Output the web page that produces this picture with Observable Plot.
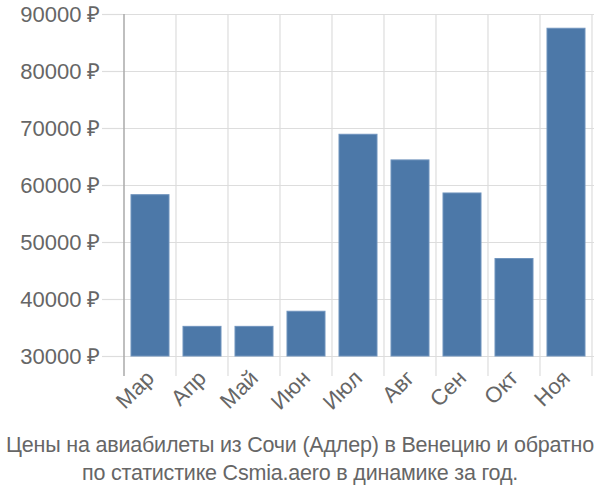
<!DOCTYPE html>
<html>
<head>
<meta charset="utf-8">
<script src="https://cdn.jsdelivr.net/npm/d3@7"></script>
<script src="https://cdn.jsdelivr.net/npm/@observablehq/plot@0.6"></script>
<style>
  html, body { margin: 0; padding: 0; background: #fff; }
  #chart { width: 600px; }
  .caption { font-family: "Liberation Sans", Arial, sans-serif; font-size: 21.5px; color: #666; text-align: center; line-height: 28px; margin-top: 1px; white-space: nowrap; letter-spacing: -0.2px; }
</style>
</head>
<body>
<div id="chart"></div>
<script>
const months = ["Мар", "Апр", "Май", "Июн", "Июл", "Авг", "Сен", "Окт", "Ноя"];
const prices = [58300, 35200, 35200, 37850, 68900, 64400, 58600, 47100, 87500];
const yTicks = [30000, 40000, 50000, 60000, 70000, 80000, 90000];
const captionLines = [
  "Цены на авиабилеты из Сочи (Адлер) в Венецию и обратно",
  "по статистике Csmia.aero в динамике за год."
];

const data = months.map((m, i) => ({month: m, price: prices[i]}));
const yMin = d3.min(yTicks), yMax = d3.max(yTicks);
const gridColor = "#dddddd";

const bandGrid = (index, scales, values, dimensions) => {
  const g = d3.create("svg:g");
  const bw = scales.x.bandwidth ? scales.x.bandwidth() : 0;
  const top = scales.y(yMax), bottom = scales.y(yMin) + 20;
  const edges = months.map(m => scales.x(m)).concat([scales.x(months[months.length - 1]) + bw]);
  edges.forEach((x, i) => {
    g.append("line")
      .attr("x1", x).attr("x2", x).attr("y1", top).attr("y2", bottom)
      .attr("stroke", i === 0 ? "#aaaaaa" : gridColor)
      .attr("stroke-width", i === 0 ? 1.5 : 1.2);
  });
  return g.node();
};

const chart = Plot.plot({
  width: 600,
  height: 430,
  marginTop: 14,
  marginBottom: 74,
  marginLeft: 122,
  marginRight: 6,
  style: {fontFamily: "'Liberation Sans', Arial, sans-serif", fontSize: "22px", color: "#666", background: "#fff"},
  x: {domain: months, padding: 0, label: null},
  y: {domain: [yMin, yMax], label: null},
  marks: [
    Plot.gridY(yTicks, {stroke: gridColor, strokeOpacity: 1, strokeWidth: 1.2}),
    Plot.axisY(yTicks, {tickSize: 20, tickPadding: 2, tickFormat: d => d + " ₽", stroke: gridColor, strokeOpacity: 1, strokeWidth: 1.2, fill: "#666", label: null}),
    bandGrid,
    Plot.barY(data, {x: "month", y1: yMin, y2: "price", fill: "#4c78a8", stroke: "#6f93bd", strokeWidth: 1, insetLeft: 7, insetRight: 7}),
    Plot.axisX({tickSize: 0, tickRotate: -45, tickPadding: 18, fill: "#666", label: null})
  ]
});
document.getElementById("chart").appendChild(chart);

const cap = document.createElement("div");
cap.className = "caption";
cap.innerHTML = captionLines.map(s => "<div>" + s + "</div>").join("");
document.getElementById("chart").appendChild(cap);
</script>
</body>
</html>
